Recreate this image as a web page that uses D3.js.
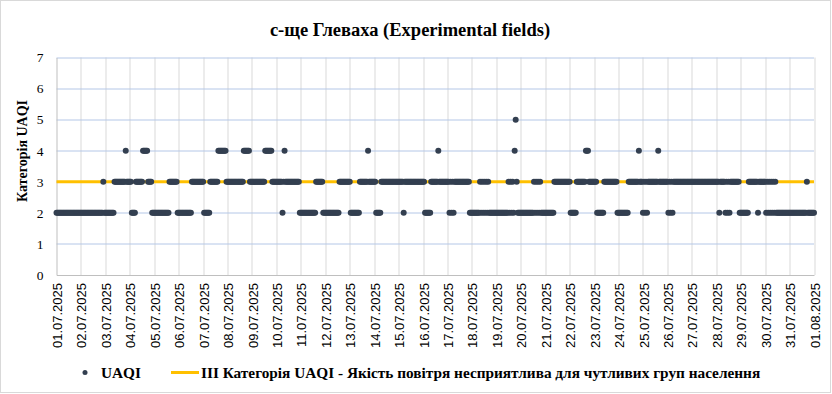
<!DOCTYPE html>
<html>
<head>
<meta charset="utf-8">
<script src="https://cdn.jsdelivr.net/npm/d3@7"></script>
<style>
  body { margin: 0; background: #fff; }
  svg { display: block; }
</style>
</head>
<body>
<script>
// UAQI category per hour, one string per day (00:00 .. 23:00)
const hourlyByDay = [
  "222222222222222222222222", // 01.07
  "222222222222222222222232", // 02.07
  "222222222333333333334333", // 03.07
  "332222333333344444333322", // 04.07
  "222222222222222333333332", // 05.07
  "222222222222233333333333", // 06.07
  "322222233333333444444443", // 07.07
  "333333333333333344444433", // 08.07
  "333333333333344444443333", // 09.07
  "333333234333333333333332", // 10.07
  "222222222222222333333322", // 11.07
  "222222222222223333333333", // 12.07
  "322222222233333333433333", // 13.07
  "332222233333333333333333", // 14.07
  "333332333333333333333333", // 15.07
  "332222223333333433333333", // 16.07
  "332323233333333333333322", // 17.07
  "222222223232323232222222", // 18.07
  "222222222222323232453222", // 19.07
  "222222222222232323232222", // 20.07
  "222222222333333333333333", // 21.07
  "322222233333333344433333", // 22.07
  "333222222233333333333332", // 23.07
  "222222222233333333334333", // 24.07
  "232323333333333433333333", // 25.07
  "323232333333333333333333", // 26.07
  "333333333333333333333333", // 27.07
  "333233333232323333333332", // 28.07
  "222222223333333332333333", // 29.07
  "323232323232222222222222", // 30.07
  "222222222222222223222222"  // 31.07
];
const lastValue = 2; // 01.08.2025 00:00
const thresholdValue = 3; // III category line
const yTicks = [0, 1, 2, 3, 4, 5, 6, 7];
const titleText = 'с-ще Глеваха (Experimental fields)';
const yTitleText = 'Категорія UAQI';
const legendLabels = ['UAQI', 'III Категорія UAQI - Якість повітря несприятлива для чутливих груп населення'];

let margin = { top: 57.5, right: 18, bottom: 119, left: 56.5 };
let W = 832, H = 394;
let width = W - margin.left - margin.right;
let height = H - margin.top - margin.bottom;

let data = [];
hourlyByDay.forEach(function(day, i){
  day.split('').forEach(function(c, h){
    data.push({ time: new Date(Date.UTC(2025, 6, 1 + i, h)), value: +c });
  });
});
data.push({ time: new Date(Date.UTC(2025, 7, 1, 0)), value: lastValue });

let start = new Date(Date.UTC(2025, 6, 1));
let end = new Date(Date.UTC(2025, 7, 1));

let svg = d3.select('body').append('svg')
    .attr('width', W)
    .attr('height', H);

// chart border
svg.append('rect')
  .attr('x', 0.5).attr('y', 0.5)
  .attr('width', 830).attr('height', 392)
  .attr('fill', '#fff')
  .attr('stroke', '#d9d9d9');

let g = svg.append('g')
    .attr('transform', 'translate(' + margin.left + ',' + margin.top + ')');

let x = d3.scaleUtc().domain([start, end]).range([0, width]);
let y = d3.scaleLinear().domain([0, 7]).range([height, 0]);

let days = d3.utcDay.range(start, d3.utcDay.offset(end, 1));

// vertical grid lines, one per day
g.append('g')
  .selectAll('line')
  .data(days.slice(1))
  .enter().append('line')
    .attr('x1', function(d){ return Math.round(x(d)) + 0.5; })
    .attr('x2', function(d){ return Math.round(x(d)) + 0.5; })
    .attr('y1', 0)
    .attr('y2', height)
    .attr('stroke', '#d9d9d9');

// horizontal grid lines
g.append('g')
  .selectAll('line')
  .data(yTicks.slice(1))
  .enter().append('line')
    .attr('x1', 0)
    .attr('x2', width)
    .attr('y1', function(d){ return Math.round(y(d)) + 0.5; })
    .attr('y2', function(d){ return Math.round(y(d)) + 0.5; })
    .attr('stroke', '#b4c7e7');

// x axis
let xAxis = d3.axisBottom(x)
  .tickValues(days)
  .tickFormat(d3.utcFormat('%d.%m.%Y'))
  .tickSize(0);

let xg = g.append('g')
  .attr('transform', 'translate(0,' + height + ')')
  .call(xAxis);
xg.select('.domain').attr('stroke', '#bfbfbf');
xg.selectAll('text')
  .attr('transform', 'rotate(-90)')
  .attr('text-anchor', 'end')
  .attr('x', -8)
  .attr('y', 0.5)
  .attr('dy', '0.35em')
  .attr('fill', '#000')
  .style('font-family', '"Liberation Sans", Arial, sans-serif')
  .style('font-size', '13px');

// y axis
let yAxis = d3.axisLeft(y)
  .tickValues(yTicks)
  .tickFormat(d3.format('d'))
  .tickSize(0)
  .tickPadding(13);

let yg = g.append('g').call(yAxis);
yg.select('.domain').attr('stroke', '#bfbfbf');
yg.selectAll('text')
  .attr('fill', '#000')
  .style('font-family', '"Liberation Serif", "Times New Roman", serif')
  .style('font-size', '13.5px');

// threshold line
g.append('line')
  .attr('x1', 0)
  .attr('x2', width)
  .attr('y1', y(thresholdValue))
  .attr('y2', y(thresholdValue))
  .attr('stroke', '#ffc000')
  .attr('stroke-width', 3);

// UAQI points
g.append('g')
  .selectAll('circle')
  .data(data)
  .enter().append('circle')
    .attr('cx', function(d){ return x(d.time); })
    .attr('cy', function(d){ return y(d.value); })
    .attr('r', 3)
    .attr('fill', '#333f50');

// title
svg.append('text')
  .attr('x', 410)
  .attr('y', 36)
  .attr('text-anchor', 'middle')
  .style('font-family', '"Liberation Serif", "Times New Roman", serif')
  .style('font-weight', 'bold')
  .style('font-size', '18.5px')
  .text(titleText);

// y axis title
svg.append('text')
  .attr('transform', 'translate(27,151) rotate(-90)')
  .attr('text-anchor', 'middle')
  .style('font-family', '"Liberation Serif", "Times New Roman", serif')
  .style('font-weight', 'bold')
  .style('font-size', '14px')
  .text(yTitleText);

// legend
let legend = svg.append('g')
  .style('font-family', '"Liberation Serif", "Times New Roman", serif')
  .style('font-weight', 'bold')
  .style('font-size', '15.3px');

legend.append('circle')
  .attr('cx', 85).attr('cy', 372.5).attr('r', 2.5)
  .attr('fill', '#333f50');
legend.append('text')
  .attr('x', 101).attr('y', 378)
  .text(legendLabels[0]);
legend.append('line')
  .attr('x1', 171).attr('x2', 199)
  .attr('y1', 372.5).attr('y2', 372.5)
  .attr('stroke', '#ffc000')
  .attr('stroke-width', 3);
legend.append('text')
  .attr('x', 201).attr('y', 378)
  .text(legendLabels[1]);
</script>
</body>
</html>
